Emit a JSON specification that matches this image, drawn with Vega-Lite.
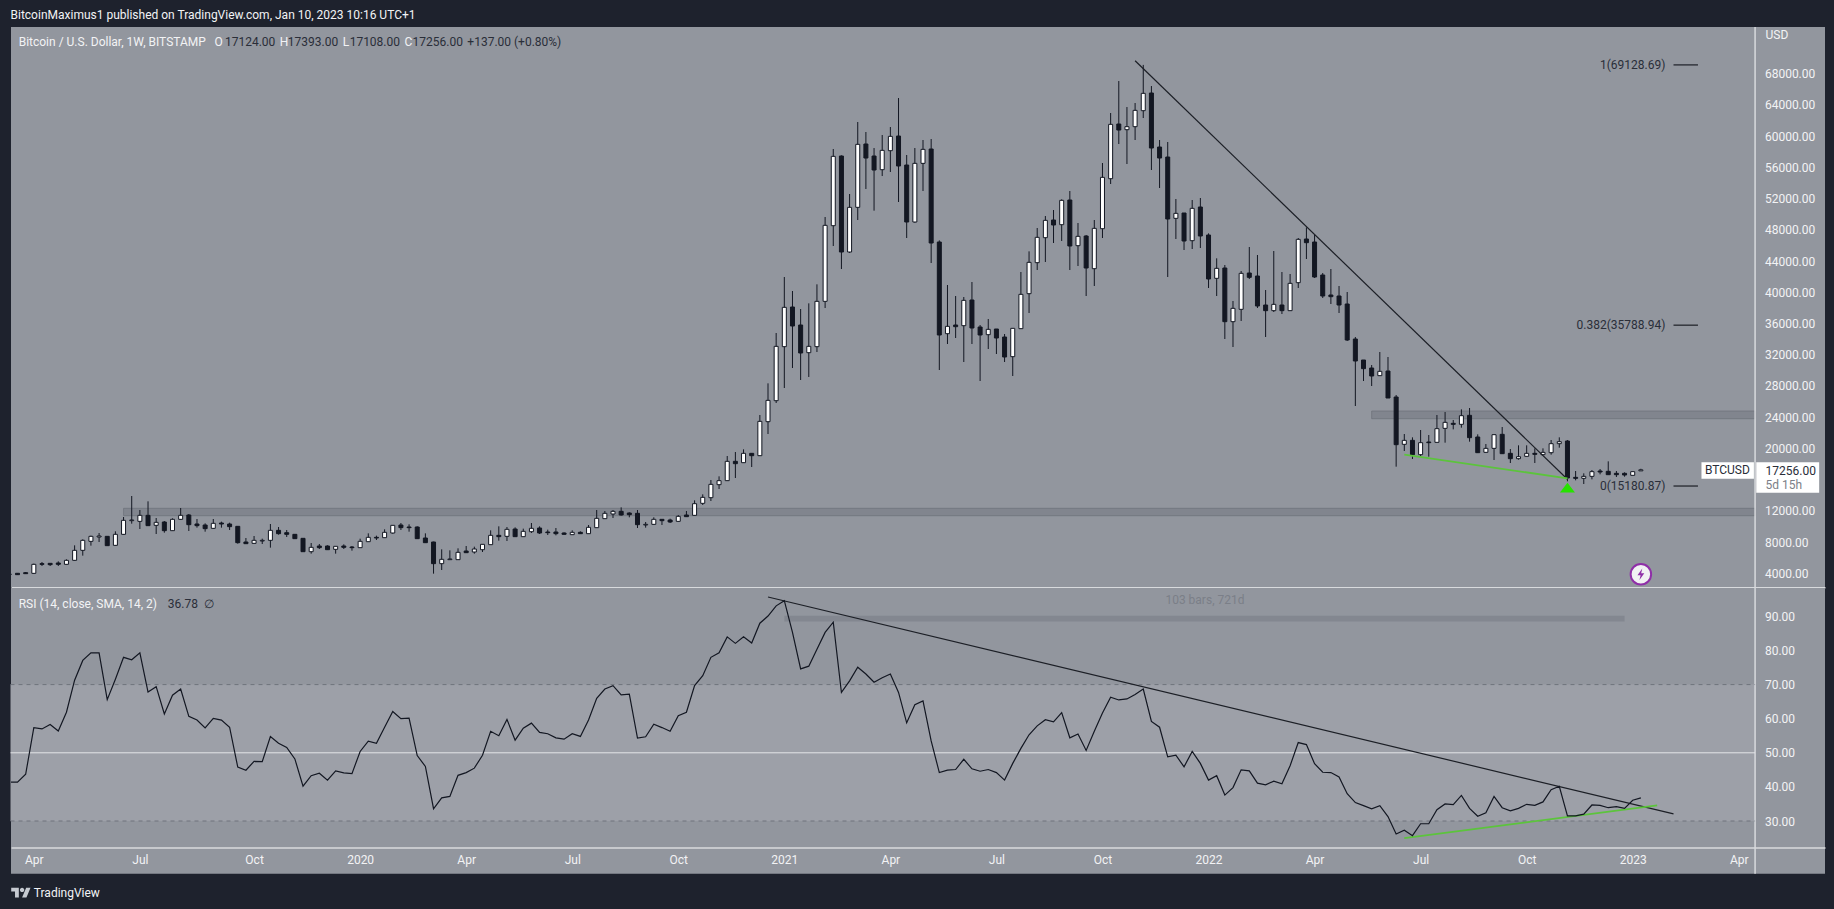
{
"$schema":"https://vega.github.io/schema/vega-lite/v6.json",
"background":"#1e222d",
"padding":{"left":10,"right":10,"top":8,"bottom":10},
"spacing":0,
"bounds":"flush",
"config":{"font":"Roboto","view":{"fill":"#92969e","stroke":null},"text":{"fontSize":12,"baseline":"middle"}},
"datasets":{
"bars":[
{"d":"2019-03-11","o":3880,"h":3900,"l":3850,"c":3860,"rsi":41.4},
{"d":"2019-03-18","o":4001,"h":4010,"l":3825,"c":3825,"rsi":41.4},
{"d":"2019-03-25","o":4081,"h":4167,"l":3910,"c":3953,"rsi":43.7},
{"d":"2019-04-01","o":3996,"h":5234,"l":3953,"c":5149,"rsi":57.4},
{"d":"2019-04-08","o":5234,"h":5448,"l":4935,"c":5149,"rsi":57.0},
{"d":"2019-04-15","o":5277,"h":5277,"l":4935,"c":5106,"rsi":58.3},
{"d":"2019-04-22","o":5320,"h":5533,"l":4935,"c":5149,"rsi":56.4},
{"d":"2019-04-29","o":5149,"h":5789,"l":5106,"c":5661,"rsi":61.9},
{"d":"2019-05-06","o":5661,"h":7583,"l":5619,"c":6942,"rsi":71.3},
{"d":"2019-05-13","o":6942,"h":8351,"l":6259,"c":8223,"rsi":77.1},
{"d":"2019-05-20","o":8095,"h":8821,"l":7540,"c":8736,"rsi":79.3},
{"d":"2019-05-27","o":8650,"h":9163,"l":8010,"c":8778,"rsi":79.3},
{"d":"2019-06-03","o":8736,"h":8736,"l":7540,"c":7540,"rsi":65.6},
{"d":"2019-06-10","o":7583,"h":9376,"l":7540,"c":8992,"rsi":71.6},
{"d":"2019-06-17","o":8992,"h":11212,"l":8949,"c":10785,"rsi":78.0},
{"d":"2019-06-24","o":10743,"h":13902,"l":10358,"c":10828,"rsi":77.3},
{"d":"2019-07-01","o":10657,"h":12109,"l":9675,"c":11426,"rsi":79.3},
{"d":"2019-07-08","o":11426,"h":13219,"l":10059,"c":10102,"rsi":67.8},
{"d":"2019-07-15","o":10145,"h":11084,"l":9035,"c":10529,"rsi":69.4},
{"d":"2019-07-22","o":10572,"h":10700,"l":9205,"c":9462,"rsi":61.4},
{"d":"2019-07-29","o":9462,"h":11041,"l":9419,"c":10913,"rsi":66.9},
{"d":"2019-08-05","o":10913,"h":12365,"l":10871,"c":11426,"rsi":68.7},
{"d":"2019-08-12","o":11468,"h":11597,"l":9419,"c":10230,"rsi":60.7},
{"d":"2019-08-19","o":10316,"h":10956,"l":9846,"c":10102,"rsi":59.6},
{"d":"2019-08-26","o":10187,"h":10401,"l":9333,"c":9718,"rsi":57.3},
{"d":"2019-09-02","o":9761,"h":10956,"l":9718,"c":10401,"rsi":60.1},
{"d":"2019-09-09","o":10444,"h":10615,"l":9846,"c":10316,"rsi":59.6},
{"d":"2019-09-16","o":10316,"h":10486,"l":9547,"c":9974,"rsi":57.5},
{"d":"2019-09-23","o":10017,"h":10017,"l":7796,"c":7924,"rsi":45.8},
{"d":"2019-09-30","o":8010,"h":8522,"l":7796,"c":7796,"rsi":44.9},
{"d":"2019-10-07","o":7839,"h":8778,"l":7796,"c":8223,"rsi":47.5},
{"d":"2019-10-14","o":8138,"h":8437,"l":7754,"c":8223,"rsi":47.4},
{"d":"2019-10-21","o":8223,"h":10316,"l":7284,"c":9504,"rsi":54.8},
{"d":"2019-10-28","o":9504,"h":9931,"l":8949,"c":9077,"rsi":52.8},
{"d":"2019-11-04","o":9205,"h":9547,"l":8650,"c":8992,"rsi":51.6},
{"d":"2019-11-11","o":8992,"h":8992,"l":8437,"c":8437,"rsi":48.2},
{"d":"2019-11-18","o":8479,"h":8479,"l":6771,"c":6771,"rsi":40.2},
{"d":"2019-11-25","o":6771,"h":7882,"l":6515,"c":7327,"rsi":43.3},
{"d":"2019-12-02","o":7497,"h":7754,"l":7113,"c":7284,"rsi":44.0},
{"d":"2019-12-09","o":7497,"h":7583,"l":6985,"c":7027,"rsi":42.0},
{"d":"2019-12-16","o":7070,"h":7497,"l":6515,"c":7455,"rsi":44.7},
{"d":"2019-12-23","o":7497,"h":7711,"l":7113,"c":7327,"rsi":44.1},
{"d":"2019-12-30","o":7369,"h":7497,"l":6900,"c":7284,"rsi":43.9},
{"d":"2020-01-06","o":7284,"h":8437,"l":7284,"c":8095,"rsi":50.4},
{"d":"2020-01-13","o":8052,"h":9120,"l":8010,"c":8607,"rsi":53.4},
{"d":"2020-01-20","o":8607,"h":8821,"l":8266,"c":8522,"rsi":52.8},
{"d":"2020-01-27","o":8565,"h":9632,"l":8565,"c":9248,"rsi":57.5},
{"d":"2020-02-03","o":9163,"h":10187,"l":9077,"c":10145,"rsi":62.1},
{"d":"2020-02-10","o":10187,"h":10444,"l":9547,"c":9846,"rsi":60.0},
{"d":"2020-02-17","o":9931,"h":10273,"l":9333,"c":9846,"rsi":60.2},
{"d":"2020-02-24","o":9931,"h":10017,"l":8394,"c":8437,"rsi":49.2},
{"d":"2020-03-02","o":8522,"h":9120,"l":7924,"c":7924,"rsi":46.0},
{"d":"2020-03-09","o":8010,"h":8052,"l":3953,"c":5234,"rsi":33.6},
{"d":"2020-03-16","o":5234,"h":7070,"l":4423,"c":5789,"rsi":36.8},
{"d":"2020-03-23","o":5747,"h":6942,"l":5747,"c":5832,"rsi":37.2},
{"d":"2020-03-30","o":5747,"h":7198,"l":5704,"c":6686,"rsi":43.4},
{"d":"2020-04-06","o":6857,"h":7497,"l":6601,"c":6643,"rsi":44.2},
{"d":"2020-04-13","o":6729,"h":7412,"l":6515,"c":7113,"rsi":45.5},
{"d":"2020-04-20","o":7027,"h":7711,"l":6729,"c":7711,"rsi":49.3},
{"d":"2020-04-27","o":7668,"h":9504,"l":7668,"c":8864,"rsi":56.3},
{"d":"2020-05-04","o":8864,"h":10017,"l":8181,"c":8693,"rsi":55.0},
{"d":"2020-05-11","o":8736,"h":9931,"l":8138,"c":9632,"rsi":59.8},
{"d":"2020-05-18","o":9675,"h":9889,"l":8693,"c":8693,"rsi":53.7},
{"d":"2020-05-25","o":8693,"h":9718,"l":8693,"c":9376,"rsi":57.2},
{"d":"2020-06-01","o":9333,"h":10444,"l":9163,"c":9761,"rsi":58.7},
{"d":"2020-06-08","o":9803,"h":10017,"l":9035,"c":9163,"rsi":56.0},
{"d":"2020-06-15","o":9291,"h":9590,"l":8906,"c":9205,"rsi":55.6},
{"d":"2020-06-22","o":9291,"h":9803,"l":8864,"c":9077,"rsi":54.4},
{"d":"2020-06-29","o":9163,"h":9248,"l":8949,"c":8992,"rsi":54.0},
{"d":"2020-07-06","o":8949,"h":9504,"l":8949,"c":9248,"rsi":55.6},
{"d":"2020-07-13","o":9248,"h":9376,"l":9035,"c":9077,"rsi":54.8},
{"d":"2020-07-20","o":9077,"h":10187,"l":9077,"c":9889,"rsi":59.6},
{"d":"2020-07-27","o":9846,"h":12109,"l":9846,"c":11041,"rsi":66.0},
{"d":"2020-08-03","o":10999,"h":11981,"l":10999,"c":11682,"rsi":68.7},
{"d":"2020-08-10","o":11597,"h":12109,"l":11084,"c":11938,"rsi":69.7},
{"d":"2020-08-17","o":11938,"h":12451,"l":11383,"c":11468,"rsi":67.0},
{"d":"2020-08-24","o":11725,"h":11810,"l":11170,"c":11511,"rsi":67.2},
{"d":"2020-08-31","o":11682,"h":12109,"l":9803,"c":10230,"rsi":54.3},
{"d":"2020-09-07","o":10187,"h":10572,"l":9846,"c":10273,"rsi":54.7},
{"d":"2020-09-14","o":10273,"h":11170,"l":10230,"c":10913,"rsi":58.4},
{"d":"2020-09-21","o":10913,"h":10913,"l":10187,"c":10743,"rsi":57.4},
{"d":"2020-09-28","o":10828,"h":10999,"l":10444,"c":10572,"rsi":56.3},
{"d":"2020-10-05","o":10657,"h":11468,"l":10615,"c":11298,"rsi":60.9},
{"d":"2020-10-12","o":11468,"h":11981,"l":11212,"c":11255,"rsi":61.9},
{"d":"2020-10-19","o":11426,"h":13347,"l":11383,"c":12920,"rsi":69.7},
{"d":"2020-10-26","o":12963,"h":14116,"l":12749,"c":13732,"rsi":72.6},
{"d":"2020-11-02","o":13688,"h":15952,"l":13262,"c":15397,"rsi":78.0},
{"d":"2020-11-09","o":15354,"h":16422,"l":14799,"c":15867,"rsi":79.3},
{"d":"2020-11-16","o":15867,"h":19026,"l":15824,"c":18343,"rsi":84.0},
{"d":"2020-11-23","o":18343,"h":19539,"l":16208,"c":18044,"rsi":82.1},
{"d":"2020-11-30","o":18172,"h":19880,"l":18130,"c":19368,"rsi":84.0},
{"d":"2020-12-07","o":19368,"h":19368,"l":17617,"c":19069,"rsi":82.2},
{"d":"2020-12-14","o":19069,"h":24278,"l":19069,"c":23467,"rsi":88.0},
{"d":"2020-12-21","o":23424,"h":28335,"l":21845,"c":26157,"rsi":90.1},
{"d":"2020-12-28","o":26115,"h":34783,"l":25816,"c":33075,"rsi":93.1},
{"d":"2021-01-04","o":33033,"h":41957,"l":27738,"c":38072,"rsi":94.6},
{"d":"2021-01-11","o":38114,"h":40164,"l":30300,"c":35680,"rsi":85.3},
{"d":"2021-01-18","o":35809,"h":37858,"l":28763,"c":32222,"rsi":74.6},
{"d":"2021-01-25","o":32264,"h":38584,"l":29148,"c":33076,"rsi":75.4},
{"d":"2021-02-01","o":33033,"h":41018,"l":32350,"c":38840,"rsi":80.4},
{"d":"2021-02-08","o":38840,"h":49643,"l":37986,"c":48576,"rsi":85.3},
{"d":"2021-02-15","o":48533,"h":58354,"l":45928,"c":57415,"rsi":88.3},
{"d":"2021-02-22","o":57457,"h":57543,"l":42982,"c":45160,"rsi":67.7},
{"d":"2021-03-01","o":45160,"h":52590,"l":45032,"c":50882,"rsi":71.1},
{"d":"2021-03-08","o":50882,"h":61813,"l":49259,"c":58952,"rsi":75.1},
{"d":"2021-03-15","o":58995,"h":60532,"l":53230,"c":57201,"rsi":73.1},
{"d":"2021-03-22","o":57457,"h":58482,"l":50455,"c":55664,"rsi":70.7},
{"d":"2021-03-29","o":55707,"h":60147,"l":54895,"c":58183,"rsi":72.0},
{"d":"2021-04-05","o":58141,"h":61172,"l":55408,"c":59977,"rsi":73.1},
{"d":"2021-04-12","o":60019,"h":64887,"l":51565,"c":56177,"rsi":67.7},
{"d":"2021-04-19","o":56304,"h":57586,"l":46953,"c":49003,"rsi":58.8},
{"d":"2021-04-26","o":49003,"h":58482,"l":48918,"c":56518,"rsi":64.1},
{"d":"2021-05-03","o":56518,"h":59507,"l":52974,"c":58311,"rsi":65.2},
{"d":"2021-05-10","o":58354,"h":59635,"l":43751,"c":46313,"rsi":53.5},
{"d":"2021-05-17","o":46441,"h":46654,"l":30044,"c":34528,"rsi":44.2},
{"d":"2021-05-24","o":34698,"h":40932,"l":33375,"c":35638,"rsi":44.9},
{"d":"2021-05-31","o":35809,"h":39523,"l":34143,"c":35595,"rsi":45.1},
{"d":"2021-06-07","o":35723,"h":39396,"l":31069,"c":38968,"rsi":48.1},
{"d":"2021-06-14","o":39011,"h":41317,"l":33375,"c":35424,"rsi":45.3},
{"d":"2021-06-21","o":35552,"h":35809,"l":28635,"c":34528,"rsi":44.6},
{"d":"2021-06-28","o":34570,"h":36577,"l":32734,"c":35253,"rsi":45.1},
{"d":"2021-07-05","o":35296,"h":35296,"l":32094,"c":34143,"rsi":44.2},
{"d":"2021-07-12","o":34271,"h":34655,"l":31069,"c":31709,"rsi":42.0},
{"d":"2021-07-19","o":31752,"h":35382,"l":29275,"c":35382,"rsi":46.9},
{"d":"2021-07-26","o":35339,"h":42598,"l":35339,"c":39737,"rsi":51.3},
{"d":"2021-08-02","o":39822,"h":45245,"l":37346,"c":43836,"rsi":55.3},
{"d":"2021-08-09","o":43794,"h":48234,"l":42854,"c":47039,"rsi":57.9},
{"d":"2021-08-16","o":46996,"h":49771,"l":43879,"c":49216,"rsi":59.7},
{"d":"2021-08-23","o":49259,"h":50540,"l":46313,"c":48619,"rsi":59.1},
{"d":"2021-08-30","o":48661,"h":51906,"l":46569,"c":51778,"rsi":61.8},
{"d":"2021-09-06","o":51821,"h":52974,"l":42854,"c":45928,"rsi":54.4},
{"d":"2021-09-13","o":45971,"h":48875,"l":43366,"c":47167,"rsi":55.5},
{"d":"2021-09-20","o":47209,"h":47337,"l":39523,"c":43110,"rsi":50.7},
{"d":"2021-09-27","o":43025,"h":49259,"l":40804,"c":48191,"rsi":56.3},
{"d":"2021-10-04","o":48149,"h":56561,"l":46953,"c":54725,"rsi":61.7},
{"d":"2021-10-11","o":54554,"h":62966,"l":53871,"c":61514,"rsi":66.3},
{"d":"2021-10-18","o":61557,"h":67065,"l":58995,"c":60788,"rsi":65.5},
{"d":"2021-10-25","o":60831,"h":63734,"l":56433,"c":61215,"rsi":65.8},
{"d":"2021-11-01","o":61215,"h":64247,"l":59507,"c":63307,"rsi":67.1},
{"d":"2021-11-08","o":63265,"h":69129,"l":62325,"c":65485,"rsi":68.7},
{"d":"2021-11-15","o":65528,"h":66424,"l":55664,"c":58482,"rsi":59.2},
{"d":"2021-11-22","o":58610,"h":59507,"l":53358,"c":57201,"rsi":57.5},
{"d":"2021-11-29","o":57329,"h":59251,"l":41957,"c":49387,"rsi":48.8},
{"d":"2021-12-06","o":49473,"h":51949,"l":46825,"c":50113,"rsi":49.3},
{"d":"2021-12-13","o":50156,"h":50156,"l":45416,"c":46569,"rsi":45.9},
{"d":"2021-12-20","o":46611,"h":51821,"l":45544,"c":50753,"rsi":50.4},
{"d":"2021-12-27","o":50924,"h":52077,"l":45672,"c":47209,"rsi":46.9},
{"d":"2022-01-03","o":47338,"h":47551,"l":40548,"c":41701,"rsi":42.0},
{"d":"2022-01-10","o":41787,"h":44349,"l":39523,"c":43068,"rsi":43.3},
{"d":"2022-01-17","o":43110,"h":43494,"l":34015,"c":36235,"rsi":37.6},
{"d":"2022-01-24","o":36235,"h":38883,"l":32990,"c":37944,"rsi":39.8},
{"d":"2022-01-31","o":37815,"h":42726,"l":36321,"c":42427,"rsi":45.0},
{"d":"2022-02-07","o":42470,"h":45800,"l":41701,"c":41915,"rsi":44.7},
{"d":"2022-02-14","o":42085,"h":44775,"l":37986,"c":38242,"rsi":41.1},
{"d":"2022-02-21","o":38370,"h":40292,"l":34271,"c":37645,"rsi":40.6},
{"d":"2022-02-28","o":37645,"h":45288,"l":37474,"c":38456,"rsi":41.7},
{"d":"2022-03-07","o":38370,"h":42598,"l":37218,"c":37645,"rsi":40.9},
{"d":"2022-03-14","o":37645,"h":42342,"l":37645,"c":41146,"rsi":46.2},
{"d":"2022-03-21","o":41231,"h":46953,"l":40548,"c":46782,"rsi":53.0},
{"d":"2022-03-28","o":46825,"h":48320,"l":44263,"c":46355,"rsi":52.4},
{"d":"2022-04-04","o":46441,"h":47338,"l":41829,"c":41957,"rsi":46.8},
{"d":"2022-04-11","o":42214,"h":42470,"l":39267,"c":39523,"rsi":44.3},
{"d":"2022-04-18","o":39651,"h":42982,"l":38499,"c":39438,"rsi":44.2},
{"d":"2022-04-25","o":39523,"h":40804,"l":37346,"c":38370,"rsi":42.9},
{"d":"2022-05-02","o":38499,"h":40036,"l":33759,"c":33887,"rsi":38.0},
{"d":"2022-05-09","o":34015,"h":34271,"l":25432,"c":31197,"rsi":35.4},
{"d":"2022-05-16","o":31325,"h":31325,"l":28635,"c":30215,"rsi":34.5},
{"d":"2022-05-23","o":30300,"h":30684,"l":27994,"c":29275,"rsi":33.6},
{"d":"2022-05-30","o":29318,"h":32350,"l":29275,"c":29873,"rsi":34.5},
{"d":"2022-06-06","o":29916,"h":31709,"l":26457,"c":26457,"rsi":31.3},
{"d":"2022-06-13","o":26584,"h":26840,"l":17660,"c":20478,"rsi":26.2},
{"d":"2022-06-20","o":20521,"h":21845,"l":19667,"c":21033,"rsi":27.3},
{"d":"2022-06-27","o":21033,"h":21418,"l":18642,"c":19197,"rsi":25.7},
{"d":"2022-07-04","o":19197,"h":22357,"l":19026,"c":20734,"rsi":29.2},
{"d":"2022-07-11","o":20820,"h":21717,"l":18941,"c":20734,"rsi":29.2},
{"d":"2022-07-18","o":20777,"h":24279,"l":20734,"c":22528,"rsi":33.3},
{"d":"2022-07-25","o":22570,"h":24663,"l":20734,"c":23339,"rsi":35.0},
{"d":"2022-08-01","o":23211,"h":23638,"l":22442,"c":23083,"rsi":34.8},
{"d":"2022-08-08","o":23083,"h":25004,"l":22656,"c":24193,"rsi":37.5},
{"d":"2022-08-15","o":24236,"h":25175,"l":20862,"c":21375,"rsi":33.7},
{"d":"2022-08-22","o":21460,"h":21802,"l":19411,"c":19453,"rsi":31.4},
{"d":"2022-08-29","o":19496,"h":20564,"l":19411,"c":20008,"rsi":32.4},
{"d":"2022-09-05","o":20008,"h":21845,"l":18514,"c":21759,"rsi":37.2},
{"d":"2022-09-12","o":21802,"h":22741,"l":19283,"c":19325,"rsi":33.9},
{"d":"2022-09-19","o":19368,"h":19923,"l":18130,"c":18685,"rsi":33.0},
{"d":"2022-09-26","o":18685,"h":20393,"l":18557,"c":18941,"rsi":33.7},
{"d":"2022-10-03","o":18984,"h":20393,"l":18941,"c":19368,"rsi":34.9},
{"d":"2022-10-10","o":19368,"h":20008,"l":18130,"c":19240,"rsi":34.6},
{"d":"2022-10-17","o":19197,"h":20008,"l":19112,"c":19496,"rsi":35.6},
{"d":"2022-10-24","o":19453,"h":21076,"l":19197,"c":20606,"rsi":39.2},
{"d":"2022-10-31","o":20606,"h":21418,"l":20094,"c":20862,"rsi":40.2},
{"d":"2022-11-07","o":20948,"h":21076,"l":15781,"c":16208,"rsi":31.5},
{"d":"2022-11-14","o":16293,"h":17105,"l":15909,"c":16165,"rsi":31.5},
{"d":"2022-11-21","o":16165,"h":16806,"l":15440,"c":16421,"rsi":32.0},
{"d":"2022-11-28","o":16421,"h":17233,"l":16037,"c":17020,"rsi":34.7},
{"d":"2022-12-05","o":17105,"h":17361,"l":16678,"c":16977,"rsi":34.6},
{"d":"2022-12-12","o":17062,"h":18343,"l":16635,"c":16635,"rsi":33.9},
{"d":"2022-12-19","o":16806,"h":17105,"l":16336,"c":16635,"rsi":34.2},
{"d":"2022-12-26","o":16806,"h":16934,"l":16379,"c":16592,"rsi":33.7},
{"d":"2023-01-02","o":16550,"h":17020,"l":16550,"c":17020,"rsi":36.1},
{"d":"2023-01-09","o":17124,"h":17393,"l":17108,"c":17256,"rsi":36.78}
],
"zones":[
{"d":"2022-05-23","d2":"2023-04-17","lo":23805,"hi":24792},
{"d":"2019-06-17","d2":"2023-04-17","lo":11378,"hi":12326}
],
"priceTrend":[
{"d":"2021-11-01","p":69668,"line":"resistance"},
{"d":"2022-11-07","p":16042,"line":"resistance"},
{"d":"2022-06-20","p":19193,"line":"support"},
{"d":"2022-11-07","p":16170,"line":"support"}
],
"fibs":[
{"d":"2023-02-06","d2":"2023-02-27","p":69128.69},
{"d":"2023-02-06","d2":"2023-02-27","p":35788.94},
{"d":"2023-02-06","d2":"2023-02-27","p":15180.87}
],
"fibLabels":[
{"d":"2023-01-30","p":69128.69,"t":"1(69128.69)"},
{"d":"2023-01-30","p":35788.94,"t":"0.382(35788.94)"},
{"d":"2023-01-30","p":15180.87,"t":"0(15180.87)"}
],
"priceBoxes":[
{"d":"2023-03-02","d2":"2023-04-16","lo":16120,"hi":18220},
{"d":"2023-04-18","d2":"2023-06-11","lo":14325,"hi":18220}
],
"priceText":[
{"d":"2019-03-12","p":75560,"t":"BitcoinMaximus1 published on TradingView.com, Jan 10, 2023 10:16 UTC+1","k":"head"},
{"d":"2019-03-19","p":72060,"t":"Bitcoin / U.S. Dollar, 1W, BITSTAMP","k":"head"},
{"d":"2019-09-03","p":72060,"t":"O","k":"head"},
{"d":"2019-09-12","p":72060,"t":"17124.00","k":"value"},
{"d":"2019-10-29","p":72060,"t":"H","k":"head"},
{"d":"2019-11-05","p":72060,"t":"17393.00","k":"value"},
{"d":"2019-12-22","p":72060,"t":"L","k":"head"},
{"d":"2019-12-28","p":72060,"t":"17108.00","k":"value"},
{"d":"2020-02-13","p":72060,"t":"C","k":"head"},
{"d":"2020-02-20","p":72060,"t":"17256.00","k":"value"},
{"d":"2020-04-07","p":72060,"t":"+137.00 (+0.80%)","k":"value"},
{"d":"2023-03-05","p":17190,"t":"BTCUSD","k":"value"},
{"d":"2023-04-26","p":17150,"t":"17256.00","k":"value"},
{"d":"2023-04-26","p":15350,"t":"5d 15h","k":"muted"},
{"d":"2023-04-26","p":73020,"t":"USD","k":"head"}
],
"rsiBands":[{"d":"2019-03-12","d2":"2023-04-17","lo":30,"hi":70}],
"rsiLevels":[
{"d":"2019-03-12","d2":"2023-04-17","v":70},
{"d":"2019-03-12","d2":"2023-04-17","v":30}
],
"rsiMid":[{"d":"2019-03-12","d2":"2023-04-17","v":50}],
"rangeBar":[{"d":"2021-01-04","d2":"2022-12-26","lo":88.5,"hi":90.2}],
"rsiTrend":[
{"d":"2020-12-21","v":95.7,"line":"resistance"},
{"d":"2023-02-06","v":32.1,"line":"resistance"},
{"d":"2022-06-20","v":25.0,"line":"support"},
{"d":"2023-01-23","v":34.6,"line":"support"}
],
"rsiText":[
{"d":"2019-03-19","v":93.7,"t":"RSI (14, close, SMA, 14, 2)","k":"head"},
{"d":"2019-07-25","v":93.7,"t":"36.78","k":"value"},
{"d":"2019-08-25","v":93.7,"t":"∅","k":"value"},
{"d":"2021-11-27","v":94.7,"t":"103 bars, 721d","k":"muted"},
{"d":"2019-04-01","v":9,"t":"TradingView","k":"brand"}
]
},
"vconcat":[
{
"width":1814,"height":560.3,
"encoding":{"x":{"field":"d","type":"temporal","title":null,
"scale":{"type":"utc","padding":0,"domain":["2019-03-12T10:00:00Z","2023-06-16T00:00:00Z"]},
"axis":{"orient":"bottom","labels":false,"ticks":false,"grid":false,"domainColor":"#d8dadd","domainWidth":1.5}}},
"layer":[
{"data":{"name":"zones"},"mark":{"type":"rect","fill":"#6c7079","fillOpacity":0.45,"stroke":"#6c7079","strokeWidth":1,"strokeOpacity":0.7},
"encoding":{"x2":{"field":"d2"},
"y":{"field":"lo","type":"quantitative","title":null,"scale":{"domain":[2207,73985],"nice":false,"zero":false},
"axis":{"orient":"right","offset":-69.6,"values":[4000,8000,12000,20000,24000,28000,32000,36000,40000,44000,48000,52000,56000,60000,64000,68000],"tickCount":20,"format":".2f","grid":false,"ticks":false,"domain":false,"labelPadding":9,"labelFontSize":12,"labelColor":"#f2f3f5","labelOverlap":false}},
"y2":{"field":"hi"}}},
{"data":{"values":[{"d":"2023-04-17"}]},"mark":{"type":"rule","color":"#d8dadd","strokeWidth":1.5}},
{"data":{"name":"bars"},"mark":{"type":"rule","color":"#131722","strokeWidth":1,"clip":true},
"encoding":{"y":{"field":"l","type":"quantitative","title":null},"y2":{"field":"h"}}},
{"data":{"name":"bars"},"mark":{"type":"bar","size":4,"stroke":"#131722","strokeWidth":1,"clip":true},
"encoding":{"y":{"field":"o","type":"quantitative","title":null},"y2":{"field":"c"},
"fill":{"condition":{"test":"datum.c >= datum.o","value":"#ffffff"},"value":"#131722"}}},
{"data":{"name":"priceTrend"},"mark":{"type":"line"},
"encoding":{"y":{"field":"p","type":"quantitative","title":null},"detail":{"field":"line"},
"stroke":{"field":"line","legend":null,"scale":{"domain":["resistance","support"],"range":["#1c1f26","#5cc43c"]}},
"strokeWidth":{"field":"line","legend":null,"scale":{"domain":["resistance","support"],"range":[1.2,1.8]}}}},
{"data":{"values":[{"d":"2022-11-07","p":14965}]},"mark":{"type":"point","shape":"M0 -0.65L1 0.65L-1 0.65Z","filled":true,"size":225,"color":"#27e200","opacity":1},
"encoding":{"y":{"field":"p","type":"quantitative","title":null}}},
{"data":{"name":"fibs"},"mark":{"type":"rule","color":"#1c1f26","strokeWidth":1.2},
"encoding":{"x2":{"field":"d2"},"y":{"field":"p","type":"quantitative","title":null}}},
{"data":{"name":"fibLabels"},"mark":{"type":"text","align":"right","color":"#2a2e39"},
"encoding":{"y":{"field":"p","type":"quantitative","title":null},"text":{"field":"t"}}},
{"data":{"name":"priceBoxes"},"mark":{"type":"rect","fill":"#ffffff"},
"encoding":{"x2":{"field":"d2"},"y":{"field":"lo","type":"quantitative","title":null},"y2":{"field":"hi"}}},
{"data":{"name":"priceText"},"mark":{"type":"text","align":"left"},
"encoding":{"y":{"field":"p","type":"quantitative","title":null},"text":{"field":"t"},
"fill":{"field":"k","legend":null,"scale":{"domain":["head","value","muted"],"range":["#f2f3f5","#2a2e39","#7b7f88"]}}}},
{"data":{"values":[{"d":"2023-01-09","p":3870}]},"mark":{"type":"point","shape":"circle","filled":true,"size":420,"fill":"#f1f1f3","stroke":"#8f2fa8","strokeWidth":2,"opacity":1},
"encoding":{"y":{"field":"p","type":"quantitative","title":null}}},
{"data":{"values":[{"d":"2023-01-09","p":3870}]},"mark":{"type":"point","shape":"M0.25 -1L-0.6 0.15L-0.05 0.15L-0.25 1L0.6 -0.2L0.05 -0.2Z","filled":true,"size":130,"color":"#8f2fa8","opacity":1},
"encoding":{"y":{"field":"p","type":"quantitative","title":null}}}
]
},
{
"width":1814,"height":285.7,
"encoding":{"x":{"field":"d","type":"temporal","title":null,
"scale":{"type":"utc","domain":["2019-03-12T10:00:00Z","2023-06-16T00:00:00Z"]},
"axis":{"orient":"bottom","offset":-26.3,"grid":false,"ticks":false,"labelPadding":7,"labelFontSize":12,"labelColor":"#f2f3f5","domainColor":"#d8dadd","domainWidth":1.5,"labelOverlap":false,"labelFlush":false,"tickCount":20,
"values":["2019-04-01T00:00:00Z","2019-07-01T00:00:00Z","2019-10-07T00:00:00Z","2020-01-06T00:00:00Z","2020-04-06T00:00:00Z","2020-07-06T00:00:00Z","2020-10-05T00:00:00Z","2021-01-04T00:00:00Z","2021-04-05T00:00:00Z","2021-07-05T00:00:00Z","2021-10-04T00:00:00Z","2022-01-03T00:00:00Z","2022-04-04T00:00:00Z","2022-07-04T00:00:00Z","2022-10-03T00:00:00Z","2023-01-02T00:00:00Z","2023-04-03T00:00:00Z"],
"labelExpr":"utcmonth(datum.value) === 0 ? utcFormat(datum.value, '%Y') : utcFormat(datum.value, '%b')"}}},
"layer":[
{"data":{"name":"rsiBands"},"mark":{"type":"rect","fill":"#9da0a8"},
"encoding":{"x2":{"field":"d2"},
"y":{"field":"lo","type":"quantitative","title":null,"scale":{"domain":[14.55,98.33],"nice":false,"zero":false},
"axis":{"orient":"right","offset":-69.6,"values":[30,40,50,60,70,80,90],"tickCount":20,"format":".2f","grid":false,"ticks":false,"domain":false,"labelPadding":9,"labelFontSize":12,"labelColor":"#f2f3f5","labelOverlap":false}},
"y2":{"field":"hi"}}},
{"data":{"values":[{"d":"2023-04-17"}]},"mark":{"type":"rule","color":"#d8dadd","strokeWidth":1.5}},
{"data":{"name":"rsiLevels"},"mark":{"type":"rule","color":"#6f737c","strokeWidth":1,"strokeDash":[4,4]},
"encoding":{"x2":{"field":"d2"},"y":{"field":"v","type":"quantitative","title":null}}},
{"data":{"name":"rsiMid"},"mark":{"type":"rule","color":"#e3e4e7","strokeWidth":1},
"encoding":{"x2":{"field":"d2"},"y":{"field":"v","type":"quantitative","title":null}}},
{"data":{"name":"rangeBar"},"mark":{"type":"rect","fill":"#7f838c","fillOpacity":0.8},
"encoding":{"x2":{"field":"d2"},"y":{"field":"lo","type":"quantitative","title":null},"y2":{"field":"hi"}}},
{"data":{"name":"rsiTrend"},"mark":{"type":"line"},
"encoding":{"y":{"field":"v","type":"quantitative","title":null},"detail":{"field":"line"},
"stroke":{"field":"line","legend":null,"scale":{"domain":["resistance","support"],"range":["#1c1f26","#5cc43c"]}},
"strokeWidth":{"field":"line","legend":null,"scale":{"domain":["resistance","support"],"range":[1.2,2]}}}},
{"data":{"name":"bars"},"mark":{"type":"line","color":"#131722","strokeWidth":1.2,"clip":true},
"encoding":{"y":{"field":"rsi","type":"quantitative","title":null}}},
{"data":{"name":"rsiText"},"mark":{"type":"text","align":"left"},
"encoding":{"y":{"field":"v","type":"quantitative","title":null},"text":{"field":"t"},
"fill":{"field":"k","legend":null,"scale":{"domain":["head","value","muted","brand"],"range":["#f2f3f5","#2a2e39","#d2d4d8","#c6cad1"]}}}},
{"data":{"values":[{"d":"2019-03-21","v":9}]},"mark":{"type":"point","shape":"M-0.222 0.5L-0.611 0.5L-0.611 -0.111L-1 -0.111L-1 -0.5L-0.222 -0.5ZM0.556 0.5L0.111 0.5L0.528 -0.5L0.972 -0.5ZM0.333 -0.278A0.222 0.222 0 1 1 -0.111 -0.278A0.222 0.222 0 1 1 0.333 -0.278Z","filled":true,"size":384,"color":"#c6cad1","opacity":1},
"encoding":{"y":{"field":"v","type":"quantitative","title":null}}}
]
}
]
}
